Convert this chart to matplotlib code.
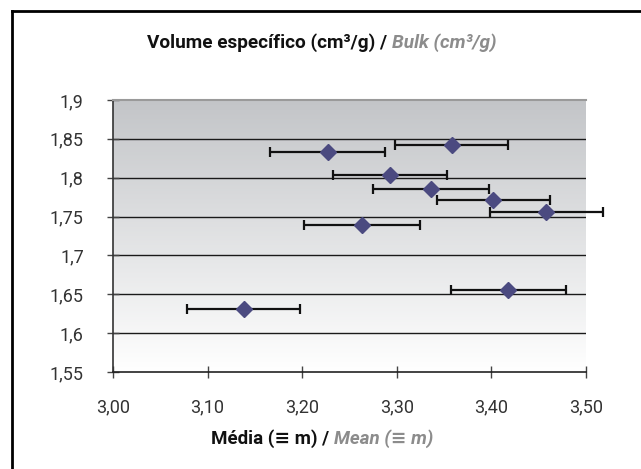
import matplotlib
matplotlib.use("Agg")
import matplotlib.pyplot as plt
import numpy as np

# Data
mean_x = [3.358, 3.227, 3.293, 3.336, 3.402, 3.458, 3.263, 3.418, 3.138]
bulk_y = [1.842, 1.833, 1.803, 1.786, 1.771, 1.756, 1.739, 1.655, 1.631]
x_err = [0.060, 0.061, 0.060, 0.061, 0.060, 0.060, 0.061, 0.061, 0.060]

x_ticks = [3.00, 3.10, 3.20, 3.30, 3.40, 3.50]
x_ticklabels = ["3,00", "3,10", "3,20", "3,30", "3,40", "3,50"]
y_ticks = [1.55, 1.60, 1.65, 1.70, 1.75, 1.80, 1.85, 1.90]
y_ticklabels = ["1,55", "1,6", "1,65", "1,7", "1,75", "1,8", "1,85", "1,9"]

title_parts = [("Volume específico (cm³/g) / ", "#111111", "normal"),
               ("Bulk (cm³/g)", "#8c8c8c", "italic")]
xlabel_parts = [("Média (≡ m) / ", "#111111", "normal"),
                ("Mean (≡ m)", "#8c8c8c", "italic")]

W, H = 641, 469
fig = plt.figure(figsize=(W / 100, H / 100), dpi=100)
fig.patch.set_facecolor("white")

FAM = ["Roboto", "DejaVu Sans"]

# outer frame (cut at right and bottom)
fig.add_artist(plt.Line2D([12 / W, 12 / W], [0, 1 - 11 / H], transform=fig.transFigure,
                          color="black", lw=2))
fig.add_artist(plt.Line2D([12 / W, 1], [1 - 11 / H, 1 - 11 / H], transform=fig.transFigure,
                          color="black", lw=2))

left, right, top, bottom = 113, 586, 100, 372
ax = fig.add_axes([left / W, 1 - bottom / H, (right - left) / W, (bottom - top) / H])

# gradient background
grad = np.linspace(0, 1, 256).reshape(-1, 1)
top_c = np.array([195, 197, 200]) / 255
bot_c = np.array([255, 255, 255]) / 255
img = top_c[None, None, :] * (1 - grad[:, :, None]) + bot_c[None, None, :] * grad[:, :, None]
ax.imshow(img, extent=[0, 1, 0, 1], transform=ax.transAxes, aspect="auto", zorder=0)

ax.set_xlim(3.0, 3.5)
ax.set_ylim(1.55, 1.90)

for yv in y_ticks[1:-1]:
    ax.axhline(yv, color="#1a1a1a", lw=1.0, zorder=1)

ax.errorbar(mean_x, bulk_y, xerr=x_err, fmt="none", ecolor="#111111", elinewidth=1.6,
            capsize=3.5, capthick=1.6, zorder=3, clip_on=False)
ax.plot(mean_x, bulk_y, linestyle="none", marker="D", markersize=8,
        color="#4b4a80", markeredgecolor="#4b4a80", zorder=4, clip_on=False)

ax.set_xticks(x_ticks)
ax.set_xticklabels(x_ticklabels)
ax.set_yticks(y_ticks)
ax.set_yticklabels(y_ticklabels)
ax.tick_params(direction="inout", length=8, width=1, color="#444444",
               labelsize=13, labelcolor="#333333")
ax.tick_params(axis="y", pad=17)
ax.tick_params(axis="x", pad=15)
for lab in ax.get_xticklabels() + ax.get_yticklabels():
    lab.set_family(FAM)

ax.spines["right"].set_visible(False)
ax.spines["top"].set_color("#9a9a9a")
ax.spines["top"].set_linewidth(1.5)
ax.spines["left"].set_color("#333333")
ax.spines["bottom"].set_color("#222222")
ax.spines["left"].set_linewidth(1.2)
ax.spines["bottom"].set_linewidth(1.2)


def place_parts(parts, cx, cy, size, target_w):
    fig.canvas.draw()
    r = fig.canvas.get_renderer()
    texts = []
    for s, c, st in parts:
        t = fig.text(0, cy, s, color=c, style=st, fontsize=size, weight="bold",
                     family=FAM, va="center", ha="left")
        texts.append(t)
    total = sum(t.get_window_extent(renderer=r).width for t in texts)
    scale = target_w / total
    for t in texts:
        t.set_fontsize(size * scale)
    widths = [t.get_window_extent(renderer=r).width for t in texts]
    x0 = cx * W - sum(widths) / 2
    for t, w in zip(texts, widths):
        t.set_x(x0 / W)
        x0 += w


place_parts(title_parts, 322 / W, 1 - 43 / H, 14, 350)
place_parts(xlabel_parts, 322 / W, 1 - 439 / H, 14, 223)

fig.savefig("out.png", dpi=100)
